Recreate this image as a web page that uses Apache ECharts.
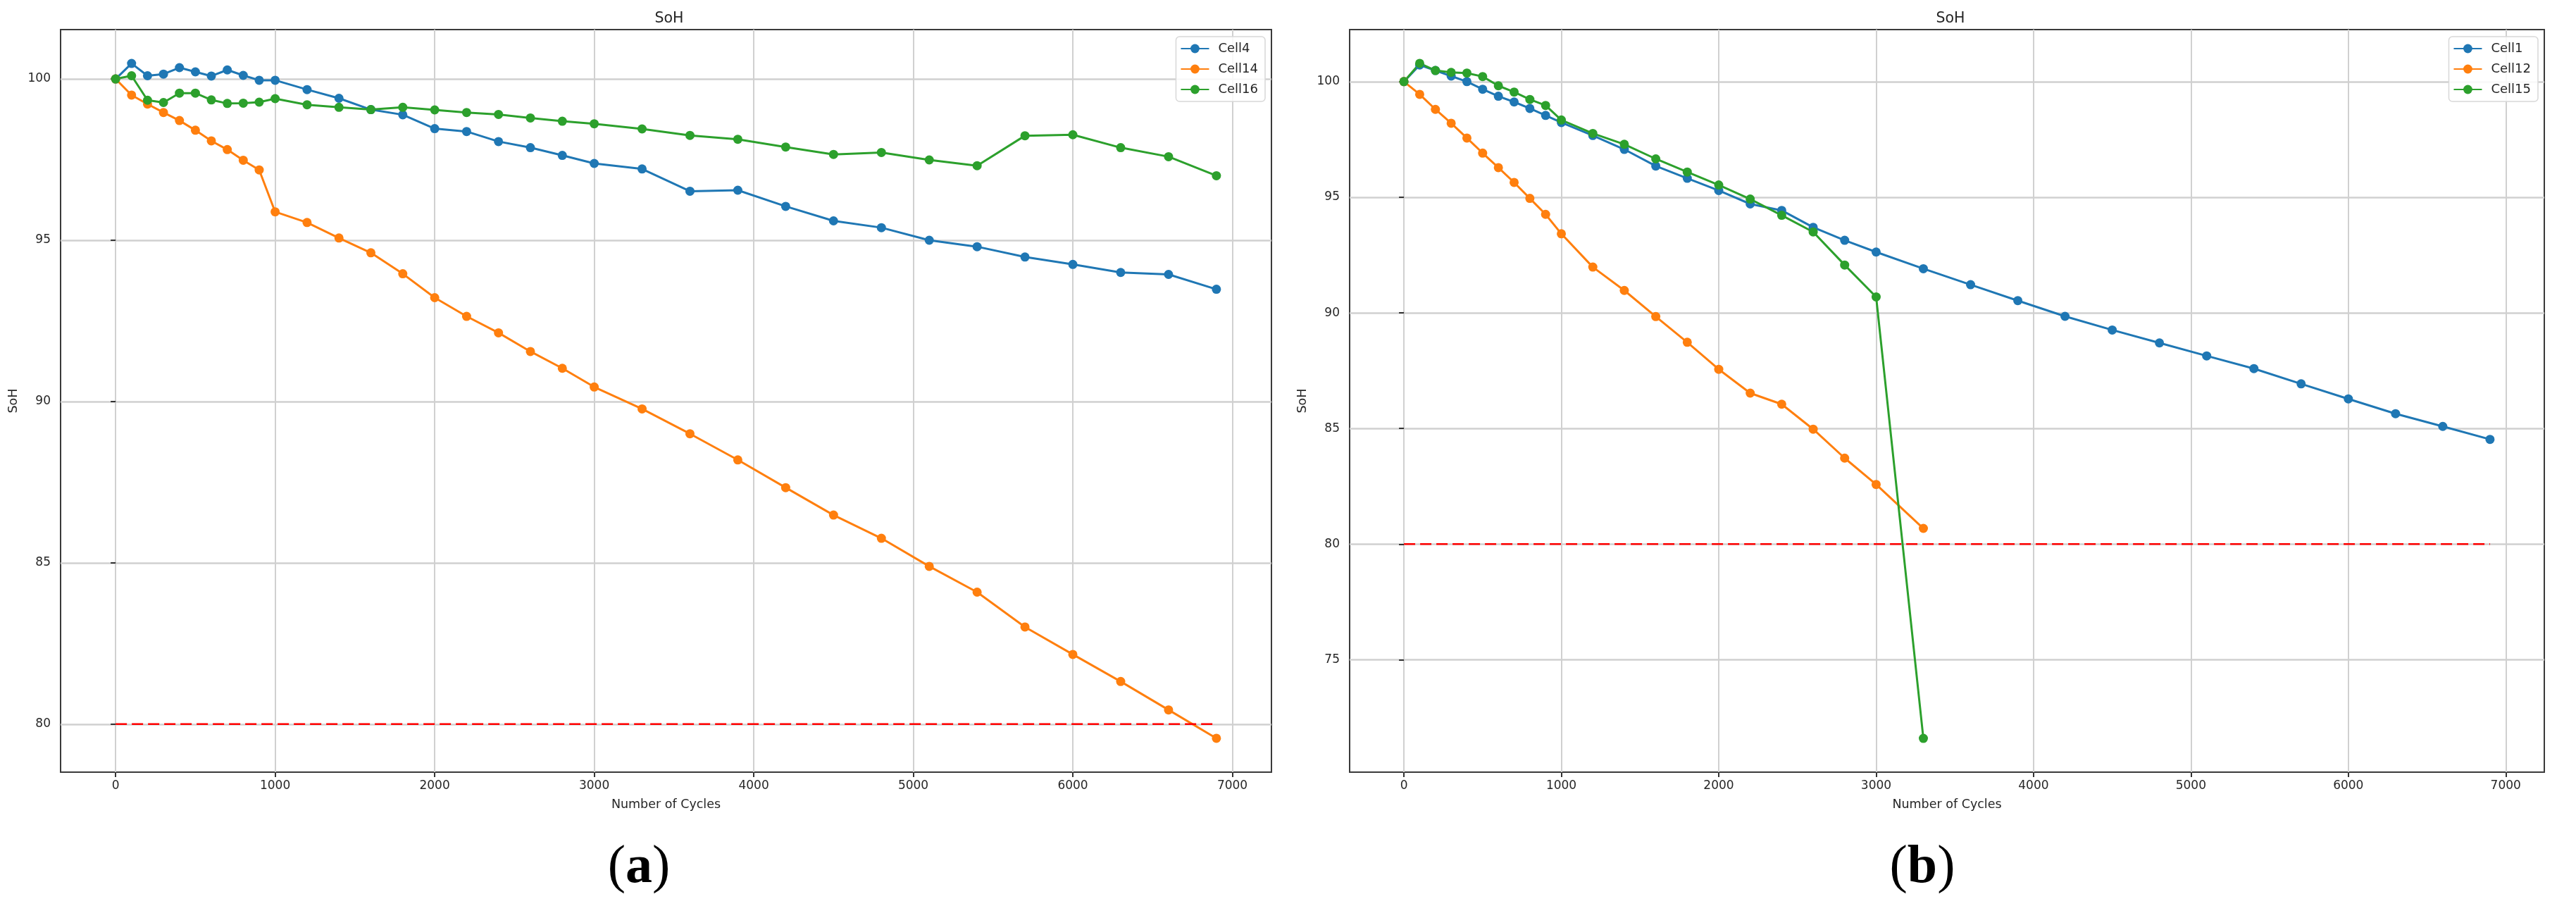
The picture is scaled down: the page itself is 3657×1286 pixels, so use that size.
<!DOCTYPE html>
<html>
<head>
<meta charset="utf-8">
<script src="https://cdn.jsdelivr.net/npm/echarts@6/dist/echarts.min.js"></script>
<style>
  html, body { margin: 0; padding: 0; background: #ffffff; }
  #chart { width: 3657px; height: 1286px; }
</style>
</head>
<body>
<div id="chart"></div>
<script>
// ---------- data ----------
const cycles = [0, 100, 200, 300, 400, 500, 600, 700, 800, 900, 1000,
  1200, 1400, 1600, 1800, 2000, 2200, 2400, 2600, 2800, 3000,
  3300, 3600, 3900, 4200, 4500, 4800, 5100, 5400, 5700, 6000, 6300, 6600, 6900];
const cyclesShort = [0, 100, 200, 300, 400, 500, 600, 700, 800, 900, 1000,
  1200, 1400, 1600, 1800, 2000, 2200, 2400, 2600, 2800, 3000, 3300];

// panel (a)
const cell4 = [100, 100.48, 100.10, 100.15, 100.35, 100.22, 100.09, 100.28, 100.11, 99.96, 99.96,
  99.67, 99.40, 99.05, 98.89, 98.46, 98.37, 98.06, 97.87, 97.63, 97.38,
  97.21, 96.52, 96.55, 96.05, 95.60, 95.39, 95.00, 94.80, 94.48, 94.25, 94.00, 93.94, 93.48];
const cell14 = [100, 99.50, 99.22, 98.96, 98.71, 98.41, 98.08, 97.81, 97.48, 97.18, 95.88,
  95.55, 95.07, 94.61, 93.96, 93.22, 92.64, 92.13, 91.55, 91.03, 90.45,
  89.77, 89.00, 88.19, 87.33, 86.48, 85.76, 84.89, 84.09, 83.01, 82.16, 81.32, 80.44, 79.56];
const cell16 = [100, 100.10, 99.34, 99.27, 99.56, 99.56, 99.35, 99.24, 99.25, 99.28, 99.39,
  99.20, 99.12, 99.05, 99.12, 99.04, 98.96, 98.90, 98.79, 98.69, 98.61,
  98.45, 98.25, 98.13, 97.89, 97.66, 97.72, 97.49, 97.31, 98.24, 98.27, 97.87, 97.59, 97.00];

// panel (b)
const cell1 = [100, 100.72, 100.48, 100.24, 100.00, 99.67, 99.37, 99.12, 98.84, 98.54, 98.23,
  97.67, 97.07, 96.35, 95.82, 95.29, 94.71, 94.43, 93.70, 93.14, 92.63,
  91.91, 91.22, 90.53, 89.85, 89.26, 88.70, 88.14, 87.59, 86.93, 86.28, 85.64, 85.09, 84.53];
const cell12 = [100, 99.45, 98.80, 98.20, 97.56, 96.91, 96.28, 95.64, 94.95, 94.26, 93.42,
  91.98, 90.97, 89.84, 88.73, 87.56, 86.53, 86.05, 84.97, 83.72, 82.58, 80.68];
const cell15 = [100, 100.79, 100.48, 100.40, 100.37, 100.22, 99.82, 99.55, 99.23, 98.97, 98.34,
  97.76, 97.29, 96.66, 96.09, 95.53, 94.92, 94.22, 93.50, 92.07, 90.69, 71.60];

// 80% threshold
const thresholdX = [0, 6900];
const thresholdY = [80, 80];

// ticks
const xTicks = [0, 1000, 2000, 3000, 4000, 5000, 6000, 7000];
const yTicksA = [80, 85, 90, 95, 100];
const yTicksB = [75, 80, 85, 90, 95, 100];

// ---------- chart ----------
const pairs = (xs, ys) => ys.map((y, i) => [xs[i], y]);
const C_BLUE = '#1f77b4', C_ORANGE = '#ff7f0e', C_GREEN = '#2ca02c';
const FONT = 'DejaVu Sans';
const TXT = '#262626';

function mkLine(name, gi, data, color) {
  return {
    name: name, type: 'line', xAxisIndex: gi, yAxisIndex: gi,
    data: data, symbol: 'circle', symbolSize: 13, showSymbol: true, showAllSymbol: true,
    lineStyle: { color: color, width: 3 }, itemStyle: { color: color },
    emphasis: { disabled: true }, animation: false, clip: false
  };
}
function mkThreshold(gi) {
  return {
    name: 'threshold', type: 'line', xAxisIndex: gi, yAxisIndex: gi,
    data: pairs(thresholdX, thresholdY), symbol: 'none',
    lineStyle: { color: '#ff0000', width: 2.5, type: [16, 7] },
    emphasis: { disabled: true }, animation: false, z: 5
  };
}
function mkX(gi) {
  return {
    type: 'value', gridIndex: gi, min: -345, max: 7245,
    name: 'Number of Cycles', nameLocation: 'middle', nameGap: 37,
    nameTextStyle: { fontFamily: FONT, fontSize: 17.5, color: TXT },
    axisLine: { show: false },
    axisTick: { show: true, length: 7, inside: false, customValues: xTicks, lineStyle: { color: '#333', width: 2 } },
    axisLabel: { customValues: xTicks, margin: 11, fontFamily: FONT, fontSize: 17, color: TXT,
      formatter: v => String(v) },
    splitLine: { show: true, lineStyle: { color: '#d0d0d0', width: 2 } }
  };
}
function mkY(gi, mn, mx, ticks) {
  return {
    type: 'value', gridIndex: gi, min: mn, max: mx,
    name: 'SoH', nameLocation: 'middle', nameGap: 58, nameRotate: 90,
    nameTextStyle: { fontFamily: FONT, fontSize: 17.5, color: TXT },
    axisLine: { show: false },
    axisTick: { show: true, length: 7, inside: false, customValues: ticks, lineStyle: { color: '#333', width: 2 } },
    axisLabel: { customValues: ticks, margin: 14, fontFamily: FONT, fontSize: 17, color: TXT,
      formatter: v => String(v) },
    splitLine: { show: true, lineStyle: { color: '#d0d0d0', width: 2.5 } }
  };
}
function mkLegend(names, right) {
  return {
    data: names, orient: 'vertical', right: right, top: 52,
    padding: [8, 10, 8, 6], itemGap: 11, itemWidth: 40, itemHeight: 16,
    backgroundColor: 'rgba(255,255,255,0.85)', borderColor: '#d8d8d8', borderWidth: 1.5, borderRadius: 5,
    textStyle: { fontFamily: FONT, fontSize: 18, color: TXT, padding: [0, 0, 0, 8] },
    selectedMode: false
  };
}

const chart = echarts.init(document.getElementById('chart'), null, { renderer: 'canvas' });
chart.setOption({
  animation: false,
  backgroundColor: '#ffffff',
  title: [
    { text: 'SoH', left: 945, top: 11, textAlign: 'center', textStyle: { fontFamily: FONT, fontSize: 20.5, fontWeight: 'normal', color: TXT } },
    { text: 'SoH', left: 2764, top: 11, textAlign: 'center', textStyle: { fontFamily: FONT, fontSize: 20.5, fontWeight: 'normal', color: TXT } }
  ],
  grid: [
    { left: 86, top: 42, width: 1719, height: 1054, show: true, borderColor: '#3a3a3a', borderWidth: 2, backgroundColor: 'transparent' },
    { left: 1916, top: 42, width: 1696, height: 1054, show: true, borderColor: '#3a3a3a', borderWidth: 2, backgroundColor: 'transparent' }
  ],
  xAxis: [mkX(0), mkX(1)],
  yAxis: [mkY(0, 78.51, 101.53, yTicksA), mkY(1, 70.14, 102.25, yTicksB)],
  legend: [
    mkLegend(['Cell4', 'Cell14', 'Cell16'], 3657 - 1796),
    mkLegend(['Cell1', 'Cell12', 'Cell15'], 3657 - 3603)
  ],
  series: [
    mkLine('Cell4', 0, pairs(cycles, cell4), C_BLUE),
    mkLine('Cell14', 0, pairs(cycles, cell14), C_ORANGE),
    mkLine('Cell16', 0, pairs(cycles, cell16), C_GREEN),
    mkThreshold(0),
    mkLine('Cell1', 1, pairs(cycles, cell1), C_BLUE),
    mkLine('Cell12', 1, pairs(cyclesShort, cell12), C_ORANGE),
    mkLine('Cell15', 1, pairs(cyclesShort, cell15), C_GREEN),
    mkThreshold(1)
  ],
  graphic: [
    { type: 'text', x: 907, y: 1232, silent: true,
      style: { text: '{p|(}{b|a}{p|)}', align: 'center', verticalAlign: 'middle',
        rich: { p: { fontFamily: 'Liberation Serif', fontSize: 76, fill: '#000' },
                b: { fontFamily: 'Liberation Serif', fontSize: 76, fontWeight: 'bold', fill: '#000' } } } },
    { type: 'text', x: 2729, y: 1232, silent: true,
      style: { text: '{p|(}{b|b}{p|)}', align: 'center', verticalAlign: 'middle',
        rich: { p: { fontFamily: 'Liberation Serif', fontSize: 76, fill: '#000' },
                b: { fontFamily: 'Liberation Serif', fontSize: 76, fontWeight: 'bold', fill: '#000' } } } }
  ]
});
</script>
</body>
</html>
